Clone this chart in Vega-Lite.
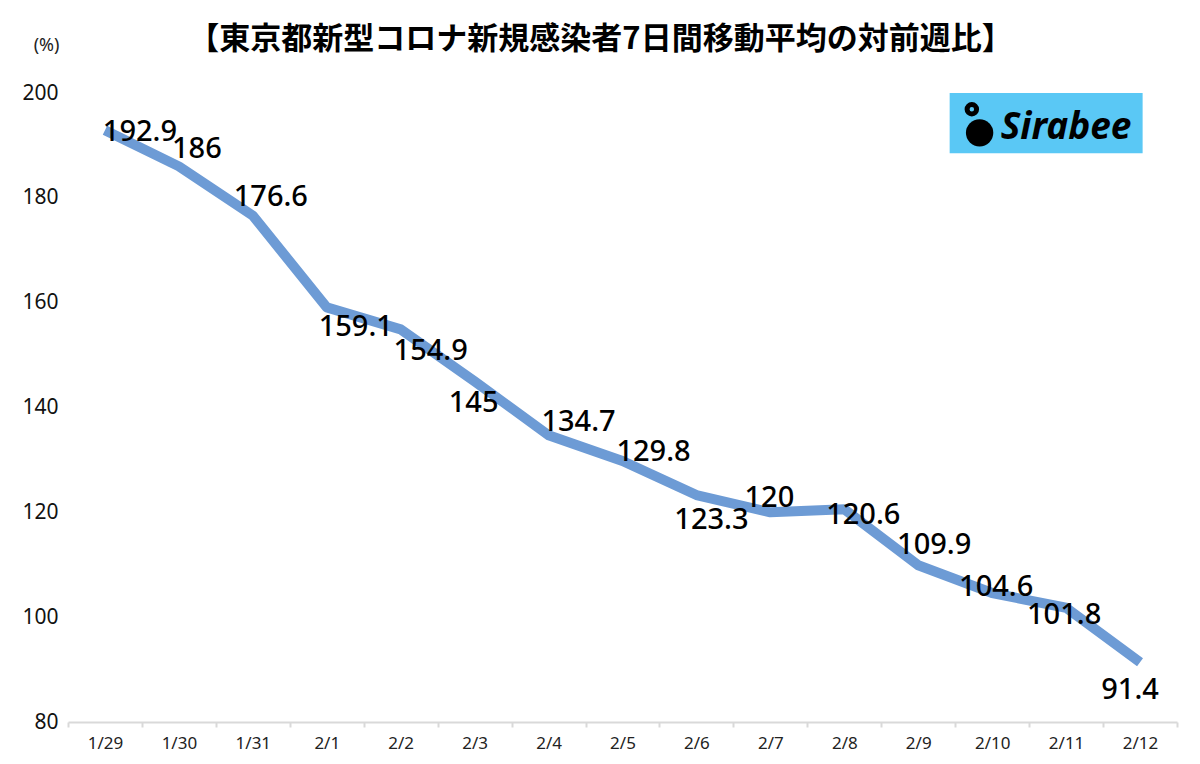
{
  "$schema": "https://vega.github.io/schema/vega-lite/v6.json",
  "width": 1109,
  "height": 629,
  "autosize": "none",
  "padding": {"left": 68, "top": 93, "right": 23, "bottom": 42},
  "background": "white",
  "title": {
    "text": "【東京都新型コロナ新規感染者7日間移動平均の対前週比】",
    "font": "Noto Sans CJK JP",
    "fontSize": 31,
    "fontWeight": "bold",
    "color": "#000000",
    "anchor": "middle",
    "frame": "group",
    "dx": -22,
    "offset": -20
  },
  "layer": [
    {
      "data": {
        "values": [
          {"d": "1/29", "v": 192.9},
          {"d": "1/30", "v": 186},
          {"d": "1/31", "v": 176.6},
          {"d": "2/1", "v": 159.1},
          {"d": "2/2", "v": 154.9},
          {"d": "2/3", "v": 145},
          {"d": "2/4", "v": 134.7},
          {"d": "2/5", "v": 129.8},
          {"d": "2/6", "v": 123.3},
          {"d": "2/7", "v": 120},
          {"d": "2/8", "v": 120.6},
          {"d": "2/9", "v": 109.9},
          {"d": "2/10", "v": 104.6},
          {"d": "2/11", "v": 101.8},
          {"d": "2/12", "v": 91.4}
        ]
      },
      "encoding": {
        "x": {
          "field": "d", "type": "nominal", "sort": null,
          "scale": {"paddingInner": 0, "paddingOuter": 0},
          "axis": {
            "title": null, "labelAngle": 0, "labelFontSize": 17, "labelFont": "Noto Sans",
            "labelColor": "#222222", "labelPadding": 8, "domainColor": "#d9d9d9", "domainWidth": 2,
            "tickColor": "#d9d9d9", "tickWidth": 2, "tickSize": 5, "tickBand": "extent", "grid": false
          }
        },
        "y": {
          "field": "v", "type": "quantitative",
          "scale": {"domain": [80, 200], "nice": false, "zero": false},
          "axis": {
            "values": [80, 100, 120, 140, 160, 180, 200],
            "title": "(%)", "titleAngle": 0, "titleX": -22, "titleY": -48, "titleFontSize": 18,
            "titleFontWeight": "normal", "titleFont": "Noto Sans", "titleColor": "#222222",
            "titleAlign": "center", "titleBaseline": "middle",
            "labelFontSize": 21, "labelFont": "Noto Sans", "labelColor": "#111111", "labelPadding": 10,
            "domain": false, "ticks": false, "grid": false
          }
        }
      },
      "layer": [
        {"mark": {"type": "line", "color": "#6d9bd5", "strokeWidth": 10, "strokeJoin": "round"}},
        {"transform": [{"filter": "datum.d === '1/29'"}], "mark": {"type": "text", "dx": 35, "dy": 2}, "encoding": {"text": {"field": "v"}}},
        {"transform": [{"filter": "datum.d === '1/30'"}], "mark": {"type": "text", "dx": 18, "dy": -17}, "encoding": {"text": {"field": "v"}}},
        {"transform": [{"filter": "datum.d === '1/31'"}], "mark": {"type": "text", "dx": 18, "dy": -19}, "encoding": {"text": {"field": "v"}}},
        {"transform": [{"filter": "datum.d === '2/1'"}], "mark": {"type": "text", "dx": 29, "dy": 20}, "encoding": {"text": {"field": "v"}}},
        {"transform": [{"filter": "datum.d === '2/2'"}], "mark": {"type": "text", "dx": 30, "dy": 22}, "encoding": {"text": {"field": "v"}}},
        {"transform": [{"filter": "datum.d === '2/3'"}], "mark": {"type": "text", "dx": -1, "dy": 22}, "encoding": {"text": {"field": "v"}}},
        {"transform": [{"filter": "datum.d === '2/4'"}], "mark": {"type": "text", "dx": 30, "dy": -13}, "encoding": {"text": {"field": "v"}}},
        {"transform": [{"filter": "datum.d === '2/5'"}], "mark": {"type": "text", "dx": 31, "dy": -9}, "encoding": {"text": {"field": "v"}}},
        {"transform": [{"filter": "datum.d === '2/6'"}], "mark": {"type": "text", "dx": 15, "dy": 25}, "encoding": {"text": {"field": "v"}}},
        {"transform": [{"filter": "datum.d === '2/7'"}], "mark": {"type": "text", "dx": -1, "dy": -14}, "encoding": {"text": {"field": "v"}}},
        {"transform": [{"filter": "datum.d === '2/8'"}], "mark": {"type": "text", "dx": 19, "dy": 6}, "encoding": {"text": {"field": "v"}}},
        {"transform": [{"filter": "datum.d === '2/9'"}], "mark": {"type": "text", "dx": 16, "dy": -20}, "encoding": {"text": {"field": "v"}}},
        {"transform": [{"filter": "datum.d === '2/10'"}], "mark": {"type": "text", "dx": 4, "dy": -6}, "encoding": {"text": {"field": "v"}}},
        {"transform": [{"filter": "datum.d === '2/11'"}], "mark": {"type": "text", "dx": -2, "dy": 7}, "encoding": {"text": {"field": "v"}}},
        {"transform": [{"filter": "datum.d === '2/12'"}], "mark": {"type": "text", "dx": -10, "dy": 28}, "encoding": {"text": {"field": "v"}}}
      ]
    },
    {
      "data": {"values": [{"lx": 0.795, "lx2": 0.969, "ly": 200, "ly2": 188.5, "ix": 0.822, "iy": 192.4, "nx": 0.815, "ny": 196.9, "tx": 0.9, "ty": 193.3, "brand": "Sirabee"}]},
      "layer": [
        {
          "mark": {"type": "rect", "color": "#5ac8f5"},
          "encoding": {
            "x": {"field": "lx", "type": "quantitative", "scale": {"domain": [0, 1]}, "axis": null},
            "x2": {"field": "lx2"},
            "y": {"field": "ly", "type": "quantitative"},
            "y2": {"field": "ly2"}
          }
        },
        {
          "mark": {"type": "point", "filled": true, "color": "#000000", "size": 750, "opacity": 1},
          "encoding": {
            "x": {"field": "ix", "type": "quantitative", "scale": {"domain": [0, 1]}, "axis": null},
            "y": {"field": "iy", "type": "quantitative"}
          }
        },
        {
          "mark": {"type": "point", "filled": false, "color": "#000000", "strokeWidth": 5, "size": 90, "opacity": 1},
          "encoding": {
            "x": {"field": "nx", "type": "quantitative", "scale": {"domain": [0, 1]}, "axis": null},
            "y": {"field": "ny", "type": "quantitative"}
          }
        },
        {
          "mark": {"type": "text", "fontSize": 37, "fontWeight": "bold", "fontStyle": "italic", "font": "Noto Sans", "color": "#000000"},
          "encoding": {
            "x": {"field": "tx", "type": "quantitative", "scale": {"domain": [0, 1]}, "axis": null},
            "y": {"field": "ty", "type": "quantitative"},
            "text": {"field": "brand"}
          }
        }
      ]
    }
  ],
  "resolve": {"scale": {"x": "independent"}, "axis": {"x": "independent"}},
  "config": {
    "view": {"stroke": null},
    "text": {"font": "Noto Sans", "fontSize": 29, "fontWeight": 500, "color": "#000000"}
  }
}
